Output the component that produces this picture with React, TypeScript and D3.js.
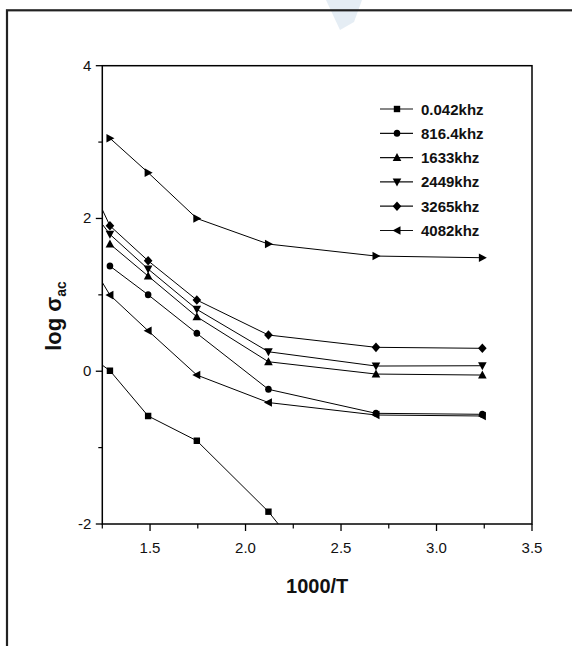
import React from "react";
import * as d3 from "d3";

const xVals = [1.2, 1.29, 1.49, 1.745, 2.12, 2.683, 3.24];

const seriesTop = [null, 3.05, 2.6, 2.0, 1.665, 1.508, 1.486];
const series0042 = [0.17, 0.007, -0.586, -0.91, -1.839, -3.6, null];
const series8164 = [null, 1.377, 1.001, 0.496, -0.237, -0.551, -0.564];
const series1633 = [null, 1.665, 1.246, 0.713, 0.124, -0.037, -0.05];
const series2449 = [2.09, 1.792, 1.338, 0.81, 0.255, 0.068, 0.072];
const series3265 = [2.38, 1.904, 1.446, 0.932, 0.474, 0.313, 0.3];
const series4082 = [1.37, 0.997, 0.53, -0.05, -0.41, -0.573, -0.586];

const legendLabels = ["0.042khz", "816.4khz", "1633khz", "2449khz", "3265khz", "4082khz"];
const xTickLabels = ["1.5", "2.0", "2.5", "3.0", "3.5"];
const xTickValues = [1.5, 2.0, 2.5, 3.0, 3.5];
const xMinorValues = [1.25, 1.75, 2.25, 2.75, 3.25];
const yTickValues = [4, 2, 0, -2];
const yMinorValues = [3, 1, -1];

type Shape = "square" | "circle" | "up" | "down" | "diamond" | "left" | "right";

const L = 102.3, R = 532, T = 65.7, B = 524;
const x = d3.scaleLinear().domain([1.25, 3.5]).range([L, R]);
const y = d3.scaleLinear().domain([-2, 4]).range([B, T]);

function markerPath(shape: Shape): string {
  switch (shape) {
    case "square":
      return "M-3.2,-3.2H3.2V3.2H-3.2Z";
    case "circle":
      return "M3.3,0A3.3,3.5,0,1,1,-3.3,0A3.3,3.5,0,1,1,3.3,0Z";
    case "up":
      return "M0,-4.5L4.3,3.5L-4.3,3.5Z";
    case "down":
      return "M0,4.5L4.3,-3.5L-4.3,-3.5Z";
    case "diamond":
      return "M0,-4.8L4.3,0L0,4.8L-4.3,0Z";
    case "left":
      return "M-4.5,0L3.5,-4.3L3.5,4.3Z";
    case "right":
      return "M4.5,0L-3.5,-4.3L-3.5,4.3Z";
  }
}

const seriesList: { vals: (number | null)[]; shape: Shape }[] = [
  { vals: seriesTop, shape: "right" },
  { vals: series3265, shape: "diamond" },
  { vals: series2449, shape: "down" },
  { vals: series1633, shape: "up" },
  { vals: series8164, shape: "circle" },
  { vals: series4082, shape: "left" },
  { vals: series0042, shape: "square" },
];

const legendShapes: Shape[] = ["square", "circle", "up", "down", "diamond", "left"];

const tickFont = "'Liberation Sans Narrow', 'Liberation Sans', Arial, sans-serif";
const boldFont = "'Liberation Sans', Arial, sans-serif";

export default function App() {
  const line = d3
    .line<[number, number | null]>()
    .defined((d) => d[1] !== null)
    .x((d) => x(d[0]))
    .y((d) => y(d[1] as number));

  return (
    <svg
      width={572}
      height={646}
      style={{ position: "absolute", left: 0, top: 0, background: "#fff" }}
    >
      <rect x={0} y={0} width={572} height={646} fill="#fff" />
      {/* faint watermark fragment */}
      <path d="M326,0L362,0L354,22L340,30Z" fill="#dfe9f1" opacity={0.8} />
      {/* outer frame */}
      <rect x={7} y={10.3} width={700} height={800} fill="none" stroke="#222" strokeWidth={2.2} />

      <defs>
        <clipPath id="plotclip">
          <rect x={L} y={T} width={R - L} height={B - T} />
        </clipPath>
      </defs>

      {/* series */}
      <g clipPath="url(#plotclip)">
        {seriesList.map((s, i) => {
          const pts = xVals.map((xv, j) => [xv, s.vals[j]] as [number, number | null]);
          return (
            <g key={i}>
              <path d={line(pts) || ""} fill="none" stroke="#000" strokeWidth={1} />
              {pts
                .filter((p) => p[1] !== null)
                .map((p, j) => (
                  <path
                    key={j}
                    d={markerPath(s.shape)}
                    transform={`translate(${x(p[0])},${y(p[1] as number)})`}
                    fill="#000"
                  />
                ))}
            </g>
          );
        })}
      </g>

      {/* axes box */}
      <rect x={L} y={T} width={R - L} height={B - T} fill="none" stroke="#000" strokeWidth={1.5} />

      {/* x ticks */}
      {xTickValues.map((v, i) => (
        <g key={"xt" + i}>
          <line x1={x(v)} x2={x(v)} y1={B} y2={B + 7} stroke="#000" strokeWidth={1.3} />
          <text
            x={x(v)}
            y={B + 29}
            textAnchor="middle"
            fontFamily={tickFont}
            fontSize={15}
            fill="#111"
          >
            {xTickLabels[i]}
          </text>
        </g>
      ))}
      {xMinorValues.map((v, i) => (
        <line key={"xm" + i} x1={x(v)} x2={x(v)} y1={B} y2={B + 4.5} stroke="#000" strokeWidth={1.2} />
      ))}

      {/* y ticks */}
      {yTickValues.map((v, i) => (
        <g key={"yt" + i}>
          <line x1={L - 6.5} x2={L} y1={y(v)} y2={y(v)} stroke="#000" strokeWidth={1.3} />
          <text
            x={L - 11}
            y={y(v) + 5}
            textAnchor="end"
            fontFamily={tickFont}
            fontSize={15}
            fill="#111"
          >
            {v === -2 ? "-2" : String(v)}
          </text>
        </g>
      ))}
      {yMinorValues.map((v, i) => (
        <line key={"ym" + i} x1={L - 4} x2={L} y1={y(v)} y2={y(v)} stroke="#000" strokeWidth={1.2} />
      ))}

      {/* axis titles */}
      <text
        x={(L + R) / 2}
        y={593}
        textAnchor="middle"
        fontFamily={boldFont}
        fontWeight="bold"
        fontSize={20}
        fill="#111"
      >
        1000/T
      </text>
      <text
        transform={`translate(61,316) rotate(-90)`}
        textAnchor="middle"
        fontFamily={boldFont}
        fontWeight="bold"
        fontSize={22}
        fill="#111"
      >
        log σ
        <tspan fontSize={14} dy={5}>
          ac
        </tspan>
      </text>

      {/* legend */}
      {legendLabels.map((lab, i) => {
        const ly = 109 + i * 24.3;
        return (
          <g key={"lg" + i}>
            <line x1={380} x2={413} y1={ly} y2={ly} stroke="#111" strokeWidth={1.2} />
            <path d={markerPath(legendShapes[i])} transform={`translate(397,${ly})`} fill="#000" />
            <text
              x={421}
              y={ly + 5.5}
              fontFamily={boldFont}
              fontWeight="bold"
              fontSize={15}
              fill="#111"
            >
              {lab}
            </text>
          </g>
        );
      })}
    </svg>
  );
}
